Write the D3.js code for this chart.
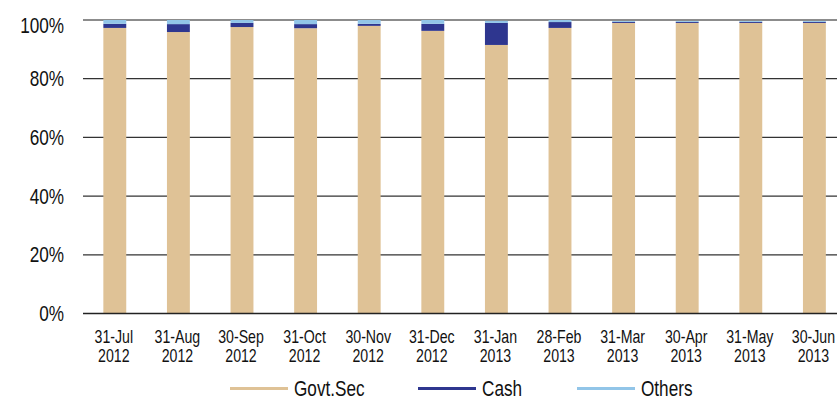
<!DOCTYPE html>
<html>
<head>
<meta charset="utf-8">
<script src="https://cdn.jsdelivr.net/npm/d3@7"></script>
<style>
  html, body { margin: 0; padding: 0; background: #fff; }
  svg { display: block; }
  text { font-family: "Liberation Sans", Arial, "DejaVu Sans", sans-serif; fill: #111; }
</style>
</head>
<body>
<svg id="chart" width="837" height="397"></svg>
<script>
const categories = ["31-Jul 2012","31-Aug 2012","30-Sep 2012","31-Oct 2012","30-Nov 2012","31-Dec 2012",
                    "31-Jan 2013","28-Feb 2013","31-Mar 2013","30-Apr 2013","31-May 2013","30-Jun 2013"];
const govtSec = [97.3, 95.9, 97.6, 97.2, 98.0, 96.3, 91.5, 97.3, 99.0, 99.0, 99.0, 99.0];
const cash    = [1.4, 2.7, 1.4, 1.4, 0.7, 2.4, 7.5, 2.0, 0.35, 0.35, 0.35, 0.35];
const others  = [1.3, 1.4, 1.0, 1.4, 1.3, 1.3, 0.7, 0.7, 0.3, 0.3, 0.3, 0.3];
const seriesNames = ["Govt.Sec", "Cash", "Others"];
const seriesColors = ["#DFC296", "#2E368F", "#92C5E8"];
const yTicks = [0, 20, 40, 60, 80, 100];

const svg = d3.select("#chart");
const mLeft = 83, mRight = 846.2, mTop = 20, mBottom = 313.5;
const squeezeBig = 0.78, squeezeSmall = 0.8; // condensed look

const x = d3.scaleBand().domain(categories).range([mLeft, mRight]).paddingInner(0.64).paddingOuter(0.32);
const y = d3.scaleLinear().domain([0, 100]).range([mBottom, mTop]);

// gridlines
svg.append("g").selectAll("line").data(yTicks).join("line")
  .attr("x1", mLeft).attr("x2", 837)
  .attr("y1", d => y(d)).attr("y2", d => y(d))
  .attr("stroke", d => d === 100 ? "#666" : "#333")
  .attr("stroke-width", d => d === 100 ? 1.5 : 1.2);

// y labels
svg.append("g").selectAll("text").data(yTicks).join("text")
  .attr("transform", d => `translate(64,${d === 100 ? y(d) + 12.5 : y(d) + 7.5}) scale(${squeezeBig},1)`)
  .attr("text-anchor", "end")
  .style("font-size", "22px")
  .text(d => d + "%");

// stacked bars
const rows = categories.map((c, i) => ({ cat: c, "Govt.Sec": govtSec[i], "Cash": cash[i], "Others": others[i] }));
const stack = d3.stack().keys(seriesNames)(rows);
svg.append("g").selectAll("g").data(stack).join("g")
  .attr("fill", (d, i) => seriesColors[i])
  .selectAll("rect").data(d => d).join("rect")
  .attr("x", d => x(d.data.cat))
  .attr("width", x.bandwidth())
  .attr("y", d => y(d[1]))
  .attr("height", d => y(d[0]) - y(d[1]));

// x axis line
svg.append("line")
  .attr("x1", mLeft).attr("x2", 837)
  .attr("y1", y(0)).attr("y2", y(0))
  .attr("stroke", "#222").attr("stroke-width", 1.5);

// x labels
const xl = svg.append("g").selectAll("text").data(categories).join("text")
  .attr("text-anchor", "middle")
  .attr("transform", d => `translate(${x(d) + x.bandwidth() / 2 - 1},0) scale(${squeezeSmall},1)`)
  .style("font-size", "17.7px");
xl.each(function(d) {
  const parts = d.split(" ");
  const t = d3.select(this);
  t.append("tspan").attr("x", 0).attr("y", 343).text(parts[0]);
  t.append("tspan").attr("x", 0).attr("y", 362).text(parts[1]);
});

// legend
const legendX = [230, 418, 577];
const lg = svg.append("g").selectAll("g").data(seriesNames).join("g")
  .attr("transform", (d, i) => `translate(${legendX[i]},388.5)`);
lg.append("line").attr("x1", 0).attr("x2", 58).attr("y1", 0).attr("y2", 0)
  .attr("stroke", (d, i) => seriesColors[i]).attr("stroke-width", 3);
lg.append("text")
  .attr("transform", `translate(64,7.5) scale(${squeezeBig},1)`)
  .style("font-size", "22px")
  .text(d => d);
</script>
</body>
</html>
